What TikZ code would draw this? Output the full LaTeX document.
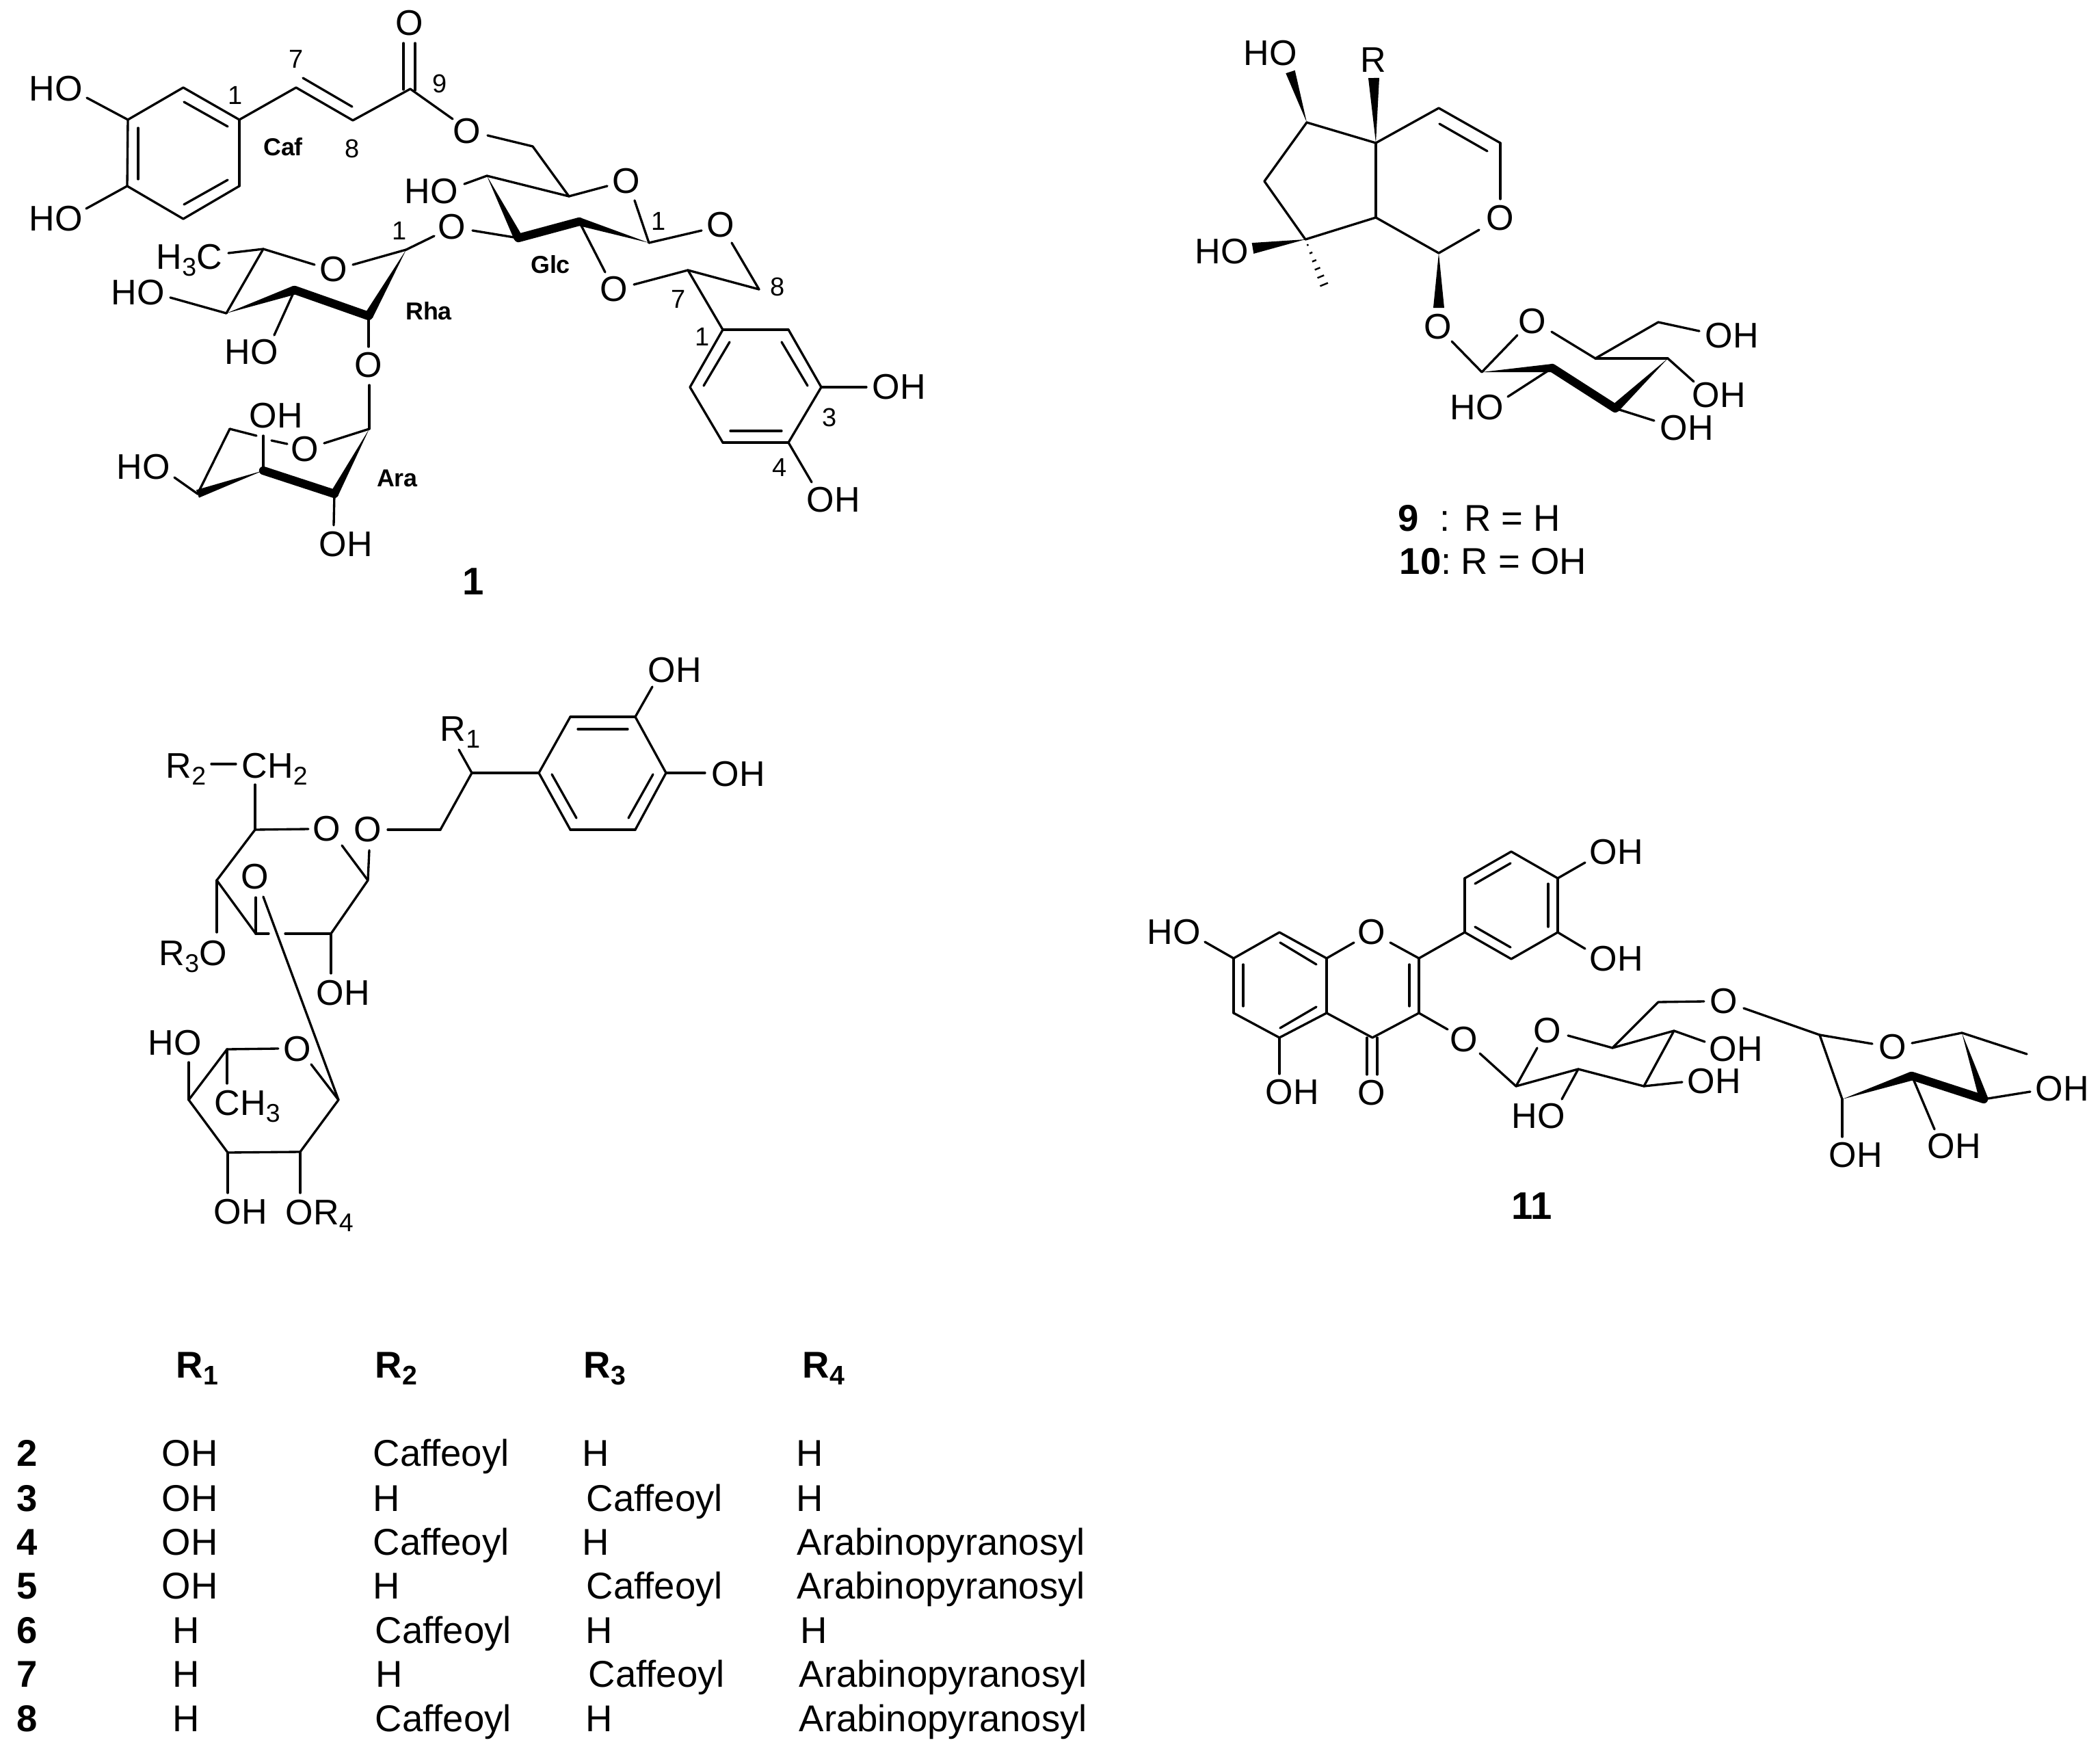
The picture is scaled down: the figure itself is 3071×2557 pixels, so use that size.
\documentclass[tikz,border=0pt]{standalone}
\usepackage{fontspec}
\usepackage{graphicx}
\setmainfont{Liberation Sans}
\usetikzlibrary{calc}
\newcommand\sbs[1]{\raisebox{-0.2em}{\scalebox{0.72}{#1}}}
\newcommand\wdg[3]{\fill (#1) -- ($(#2)!#3!90:(#1)$) -- ($(#2)!#3!-90:(#1)$) -- cycle;}
\newcommand\pts[1]{\foreach \n/\x/\y in {#1} {\coordinate (\n) at (\x,\y);}}
\newcommand\bonds[1]{\foreach \p/\q in {#1} {\draw[bond] (\p) -- (\q);}}
\newcommand\bands[1]{\foreach \p/\q in {#1} {\draw[band] (\p) -- (\q);}}
\newcommand\labs[1]{\foreach \n/\x/\y/\t in {#1} {\node[atom] (\n) at (\x,\y) {\t};}}
\newcommand\nums[1]{\foreach \n/\x/\y/\t in {#1} {\node[numlab] (\n) at (\x,\y) {\t};}}
\newcommand\tabs[1]{\foreach \n/\x/\y/\t in {#1} {\node[cell] (\n) at (\x,\y) {\t};}}
\tikzset{
 bond/.style={line width=0.95pt,line cap=round,line join=round},
 band/.style={line width=3.5pt,line cap=round},
 atom/.style={inner sep=0pt,font=\fontsize{14.8}{16}\selectfont},
 atombase/.style={atom,anchor=base west},
 numlab/.style={inner sep=0pt,font=\fontsize{10.8}{12}\selectfont},
 boldlab/.style={inner sep=0pt,font=\fontsize{10.2}{12}\selectfont\bfseries},
 cmpd/.style={inner sep=0pt,font=\fontsize{16}{18}\selectfont\bfseries},
 cell/.style={inner sep=0pt,anchor=base west,font=\fontsize{15.5}{17}\selectfont},
 headcell/.style={cell,font=\fontsize{15.5}{17}\selectfont\bfseries},
 numcell/.style={headcell}
}
\begin{document}
\begin{tikzpicture}[x=0.01cm,y=-0.01cm]
\useasboundingbox (0,0) rectangle (3071,2557);
\fill[white] (0,0) rectangle (3071,2557);
% ---------- compound 1 ----------
\pts{aa/187/175,ab/268/128,ac/350/175,ad/350/272,ae/268/320,af/186/272,
 ai1/269/149,ai2/333/185,ai3/202/187,ai4/202/262,ai5/333/263,ai6/269/299,
 ah1/127/143,ah2/126/305,cs/433/128,ce/516/176,cn/600/130,ci1/443/114,ci2/515/156,
 co1/590/63,co2/590/131,co3/607/63,co4/607/132,oe1/662/174,oe2/713/198,ch/779/214,
 g5/832/287,go1/888/272,go2/928/293,g1/949/355,g2/847/324,g3/758/348,g4/712/257,gh/679/269,
 gl1/691/337,gl2/635/345,
 dx1/1026/337,dx2/885/398,dx3/927/416,ds/1006/395,de/1110/423,dx4/1070/355}
\pts{r1/594/365,
 p1/1057/482,p2/1153/482,p3/1201/566,p4/1153/647,p5/1057/647,p6/1009/566,
 pi1/1067/500,pi2/1029/564,pi3/1143/500,pi4/1181/564,pi5/1068/630,pi6/1143/630,
 pb1/1267/566,pb2/1187/705,
 ro1/516/387,ro2/460/387,r5/385/364,rm/334/370,r4/331/458,r3/431/424,r2/539/462,
 rh1/249/435,rh2/401/490,rd1/539/507,rd2/540/563,
 u1/540/627,uo1/474/648,u2/489/722,u3/385/688,u4/289/722,u5/336/627,
 ug1/375/637,ug2/397/644,ug3/420/649,ut/385/637,uh1/255/698,uh2/488/768}
\bonds{aa/ab,ab/ac,ac/ad,ad/ae,ae/af,af/aa,ai1/ai2,ai3/ai4,ai5/ai6,ah1/aa,ah2/af,
 ac/cs,cs/ce,ce/cn,ci1/ci2,co1/co2,co3/co4,cn/oe1,oe2/ch,ch/g5,g5/go1,go2/g1,g4/g5,gh/g4,
 gl1/g3,gl2/r1,g1/dx1,g2/dx2,dx3/ds,ds/de,dx4/de,ds/p1,
 p1/p2,p2/p3,p3/p4,p4/p5,p5/p6,p6/p1,pi1/pi2,pi3/pi4,pi5/pi6,p3/pb1,p4/pb2,
 ro1/r1,ro2/r5,rm/r5,r5/r4,rh1/r4,r3/rh2,r2/rd1,rd2/u1,
 uo1/u1,u4/u5,u5/ug1,ug2/ug3,ut/u3,uh1/u4,u2/uh2}
\wdg{g1}{g2}{0.06cm}\bands{g3/g2}\wdg{g4}{g3}{0.065cm}
\wdg{r1}{r2}{0.065cm}\bands{r3/r2}\wdg{r4}{r3}{0.065cm}
\wdg{u1}{u2}{0.06cm}\bands{u3/u2}\wdg{u3}{u4}{0.06cm}
\labs{tah1/82/130/HO,tah2/82/320/HO,tco/599/34/O,toe/683/192/O,tgo/916/265/O,tgh/631/280/HO,
 tgl/661/332/O,tdo1/1054/329/O,tdo2/898/423/O,tp3/1315/566/OH,tp4/1219/731/OH,
 tro/488/394/O,trh1/202/428/HO,trh2/368/515/HO,trd/539/534/O,tuo/446/657/O,tut/404/608/OH,
 tuh1/210/683/HO,tuh2/506/796/OH}
\node[atombase] (tme) at (228,393) {H\sbs{3}C};
\nums{n7a/433/86/7,n1a/344/139/1,n9a/643/122/9,n8a/515/217/8,n1g/963/323/1,
 n8d/1137/419/8,n7d/992/437/7,n1p/1027/492/1,n3p/1213/610/3,n4p/1140/683/4,n1r/584/337/1}
\node[boldlab] (lcaf) at (414,215) {Caf};
\node[boldlab] (lglc) at (805,387) {Glc};
\node[boldlab] (lrha) at (627,455) {Rha};
\node[boldlab] (lara) at (581,699) {Ara};
\node[cmpd] (c1) at (692,850) {1};
% ---------- compounds 2-8 ----------
\pts{ba/929/1048,bb/834/1048,bc/788/1130,bd/834/1213,be/929/1213,bf/974/1130,
 bi1/845/1066,bi2/918/1066,bi3/807/1132,bi4/843/1196,bi5/955/1132,bi6/919/1196,
 bt/954/1004,br/1031/1130,bq/690/1130,bq1/671/1096,bm/644/1213,bo/567/1213,
 v1/538/1287,vo2/540/1243,vo3/500/1236,v5/373/1213,vo4/451/1212,v5u/373/1147,
 vd1/309/1117,vd2/345/1117,v4/317/1287,v3/374/1365,v2/484/1365,vg1/393/1365,vg2/417/1365,
 v4d/317/1363,vod/374/1312,vl/385/1311,v2d/484/1423,
 w1/495/1608,wo1/407/1533,wo2/455/1556,w5/332/1534,w2/439/1684,w3/333/1685,w4/276/1608,
 wh/276/1553,wm/332/1584,wd3/333/1744,wd2/439/1744}
\bonds{ba/bb,bb/bc,bc/bd,bd/be,be/bf,bf/ba,bi1/bi2,bi3/bi4,bi5/bi6,ba/bt,bf/br,bc/bq,bq/bq1,bq/bm,bm/bo,
 vo2/v1,vo3/v1,v5/vo4,v5/v5u,vd1/vd2,v5/v4,v4/v3,v3/vg1,vg2/v2,v2/v1,v4/v4d,v3/vod,vl/w1,v2/v2d,
 w5/wo1,wo2/w1,w1/w2,w2/w3,w3/w4,w4/w5,w4/wh,w5/wm,w3/wd3,w2/wd2}
\labs{tb1/987/980/OH,tb2/1080/1132/OH,tvo1/538/1213/O,tvo2/478/1212/O,tvo3/373/1282/O,
 tv2/502/1452/OH,two/435/1534/O,twh/256/1525/HO,twd/352/1772/OH}
\node[atombase] (tr1) at (643,1083) {R\sbs{1}};
\node[atombase] (tr2) at (242,1137) {R\sbs{2}};
\node[atombase] (tch2) at (353,1137) {CH\sbs{2}};
\node[atombase] (tr3) at (232,1411) {R\sbs{3}O};
\node[atombase] (tch3) at (313,1630) {CH\sbs{3}};
\node[atombase] (tor4) at (417,1790) {OR\sbs{4}};
% ---------- compounds 9/10 ----------
\pts{n5/1911/179,nw1/1887/105,n4a/2012/209,nw2/2009/114,n4/2104/158,n3/2194/209,
 ni1/2105/181,ni2/2175/221,no1/2194/291,n1/2104/370,no2/2163/336,n7a/2012/318,n7/1909/350,n6/1849/265,
 nw3/1832/363,nhs/1937/418,nw4/2104/450,no3/2123/499,m1/2167/544,mo1/2219/490,mo2/2269/485,
 m5/2333/524,m2/2270/538,m3/2362/597,m4/2439/524,m6/2425/471,mh6/2485/484,mh4/2477/558,mh3/2419/615,mh2/2205/580}
\bonds{n5/n4a,n4a/n4,n4/n3,ni1/ni2,n3/no1,no2/n1,n1/n7a,n7a/n4a,n7a/n7,n7/n6,n6/n5,
 no3/m1,m1/mo1,mo2/m5,m5/m4,m5/m6,m6/mh6,m4/mh4,m3/mh3,m2/mh2}
\wdg{n5}{nw1}{0.07cm}\wdg{n4a}{nw2}{0.08cm}\wdg{n7}{nw3}{0.08cm}\wdg{n1}{nw4}{0.08cm}
\wdg{m1}{m2}{0.06cm}\bands{m2/m3}\wdg{m4}{m3}{0.065cm}
\foreach \t/\w in {0.12/0.012,0.29/0.022,0.46/0.032,0.63/0.042,0.80/0.052,0.97/0.062}{
 \coordinate (hp) at ($(n7)!\t!(nhs)$);
 \draw[line width=0.7pt] ($(hp)!\w cm!90:(n7)$) -- ($(hp)!\w cm!-90:(n7)$);
}
\labs{tn1/1858/78/HO,tn2/2008/88/R,tn3/2194/319/O,tn4/1787/368/HO,tn5/2103/478/O,tn6/2241/470/O,
 tn7/2533/491/OH,tn8/2514/578/OH,tn9/2467/626/OH,tn10/2160/596/HO}
\node[headcell] (c9) at (2044,776) {9};
\node[cell] (c9t) at (2105,776) {: R = H};
\node[cell] (c10) at (2046,839) {{\bfseries 10}:};
\node[cell] (c10t) at (2136,839) {R = OH};
% ---------- compound 11 ----------
\pts{fa/1804/1401,fb/1871/1363,fc/1940/1401,fd/1940/1481,fe/1871/1517,ff/1804/1481,
 fi1/1818/1410,fi2/1818/1471,fi3/1872/1378,fi4/1925/1410,fi5/1872/1503,fi6/1925/1472,
 fh/1762/1377,fo1/1980/1378,fo2/2033/1378,f2/2075/1401,f3/2075/1481,fj1/2061/1410,fj2/2061/1471,
 f4/2007/1517,fk1/1999/1517,fk2/1999/1571,fk3/2014/1517,fk4/2014/1571,fb5/1871/1570,
 h1/2142/1363,h2/2142/1284,h3/2210/1245,h4/2278/1284,h5/2278/1363,h6/2210/1402,
 hi1/2157/1292,hi2/2209/1262,hi3/2264/1292,hi4/2264/1355,hi5/2157/1355,hi6/2209/1385,
 hb1/2318/1261,hb2/2318/1387,
 fl/2117/1505,i1a/2164/1540,i1/2217/1588,io1/2248/1532,io2/2293/1514,i5/2358/1532,i2/2308/1563,i3/2404/1588,
 i4/2448/1507,i6/2425/1465,i6o/2492/1464,ib4/2493/1523,ib3/2460/1582,ib2/2284/1607,
 j0/2550/1474,j1/2661/1513,jo1/2738/1526,jo2/2796/1525,j5/2869/1510,jm/2964/1541,
 j4/2901/1607,j3/2796/1573,j2/2694/1607,jb4/2969/1596,jb3/2829/1651,jb2/2694/1662}
\bonds{fa/fb,fb/fc,fc/fd,fd/fe,fe/ff,ff/fa,fi1/fi2,fi3/fi4,fi5/fi6,fh/fa,fc/fo1,fo2/f2,f2/f3,fj1/fj2,
 f3/f4,f4/fd,fk1/fk2,fk3/fk4,fe/fb5,f2/h1,
 h1/h2,h2/h3,h3/h4,h4/h5,h5/h6,h6/h1,hi1/hi2,hi3/hi4,hi5/hi6,h4/hb1,h5/hb2,
 f3/fl,i1a/i1,i1/io1,io2/i5,i1/i2,i2/i3,i3/i4,i5/i4,i5/i6,i6/i6o,i4/ib4,i3/ib3,i2/ib2,
 j0/j1,j1/jo1,jo2/j5,j5/jm,j1/j2,j4/jb4,j3/jb3,j2/jb2}
\wdg{j5}{j4}{0.065cm}\bands{j3/j4}\wdg{j2}{j3}{0.065cm}
\labs{tf1/1717/1363/HO,tf2/2006/1363/O,tf3/2006/1598/O,tf4/1890/1597/OH,tf5/2364/1246/OH,tf6/2364/1402/OH,
 tf7/2141/1520/O,tf8/2263/1507/O,tf9/2521/1464/O,tf10/2539/1534/OH,tf11/2507/1581/OH,tf12/2250/1632/HO,
 tf13/2768/1531/O,tf14/3016/1592/OH,tf15/2858/1676/OH,tf16/2714/1689/OH}
\node[cmpd] (c11) at (2240,1763) {11};
% ---------- table ----------
\node[headcell] (h1c) at (257,2014) {R\sbs{1}};
\node[headcell] (h2c) at (548,2014) {R\sbs{2}};
\node[headcell] (h3c) at (853,2014) {R\sbs{3}};
\node[headcell] (h4c) at (1173,2014) {R\sbs{4}};
\foreach \n/\y/\t in {a/2143/2,b/2209/3,c/2273/4,d/2337/5,e/2402/6,f/2466/7,g/2531/8}{
 \node[numcell] (row\n) at (24,\y) {\t};
}
\tabs{a1/236/2143/OH,a2/545/2143/Caffeoyl,a3/851/2143/H,a4/1164/2143/H,
 b1/236/2209/OH,b2/545/2209/H,b3/857/2209/Caffeoyl,b4/1164/2209/H,
 c1x/236/2273/OH,c2/545/2273/Caffeoyl,c3/851/2273/H,c4/1165/2273/Arabinopyranosyl,
 d1/236/2337/OH,d2/545/2337/H,d3/857/2337/Caffeoyl,d4/1165/2337/Arabinopyranosyl,
 e1/252/2402/H,e2/548/2402/Caffeoyl,e3/856/2402/H,e4/1170/2402/H,
 f1/252/2466/H,f2x/549/2466/H,f3x/860/2466/Caffeoyl,f4x/1168/2466/Arabinopyranosyl,
 g1x/252/2531/H,g2x/548/2531/Caffeoyl,g3x/856/2531/H,g4x/1168/2531/Arabinopyranosyl}
\end{tikzpicture}
\end{document}
